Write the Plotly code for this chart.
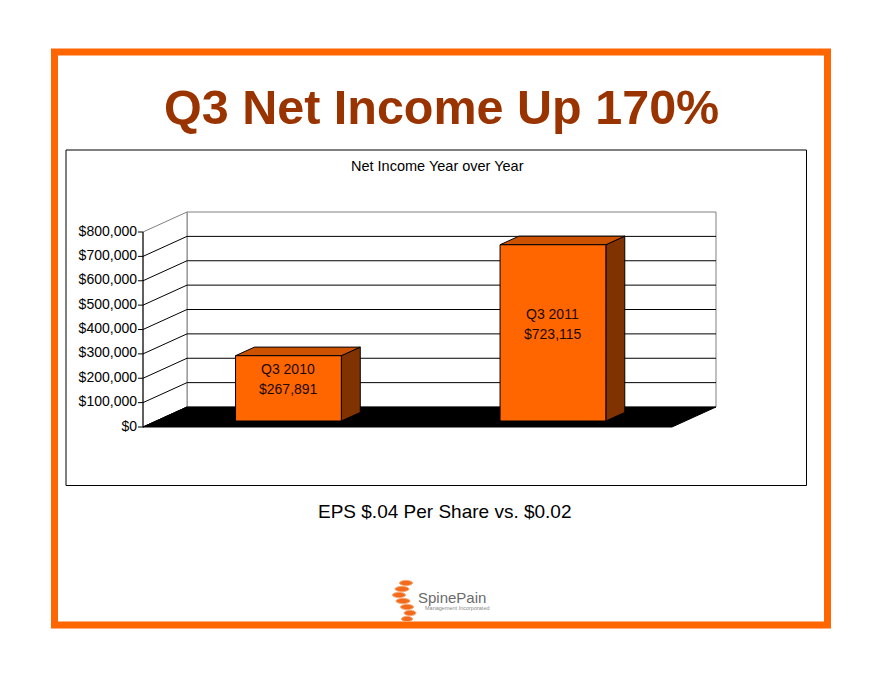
import plotly.graph_objects as go

quarters = ["Q3 2010", "Q3 2011"]
net_income = [267891, 723115]
tick_values = [0, 100000, 200000, 300000, 400000, 500000, 600000, 700000, 800000]
tick_labels = ["$0", "$100,000", "$200,000", "$300,000", "$400,000",
               "$500,000", "$600,000", "$700,000", "$800,000"]

W, H = 881, 680
OFF = 8  # the page body margin shifts the figure by this much
ORANGE = "#FF6600"
RUST = "#993300"
SANS = "Liberation Sans, Arial, sans-serif"

# front-left floor corner in pixels, and the scales of the oblique projection
FLOOR_PX_X, FLOOR_PX_Y = 143 - OFF, 427 - OFF
PX_PER_DOLLAR = 195 / 800000
PX_PER_CAT = 264.5
DX = 44 / PX_PER_CAT          # depth shift, x units
DY = 20 / PX_PER_DOLLAR       # depth shift, dollars
BAR_HALF = 0.2
BAR_D0, BAR_D1 = 0.3, 0.73

y_max = tick_values[-1]
x_lo, x_hi = -0.5, len(quarters) - 0.5


def proj(x, v, d):
    return x + d * DX, v + d * DY


def poly(points, fill, line_color="black", width=1):
    pts = [proj(*p) for p in points]
    pts.append(pts[0])
    return go.Scatter(x=[p[0] for p in pts], y=[p[1] for p in pts], mode="lines",
                      fill="toself", fillcolor=fill,
                      line=dict(color=line_color, width=width), hoverinfo="skip")


def segments(pairs, color="black", width=1):
    xs, ys = [], []
    for a, b in pairs:
        pa, pb = proj(*a), proj(*b)
        xs += [pa[0], pb[0], None]
        ys += [pa[1], pb[1], None]
    return go.Scatter(x=xs, y=ys, mode="lines", line=dict(color=color, width=width),
                      hoverinfo="skip")


def px(x):
    return (x - OFF) / W


def py(y):
    return 1 - (y - OFF) / H


fig = go.Figure()

# walls
fig.add_trace(poly([(x_lo, 0, 1), (x_hi, 0, 1), (x_hi, y_max, 1), (x_lo, y_max, 1)],
                   "white", "#808080"))
fig.add_trace(poly([(x_lo, 0, 0), (x_lo, 0, 1), (x_lo, y_max, 1), (x_lo, y_max, 0)],
                   "white", "#808080"))

# gridlines on the back wall and the left wall
fig.add_trace(segments([((x_lo, v, 1), (x_hi, v, 1)) for v in tick_values[1:-1]]))
fig.add_trace(segments([((x_lo, v, 0), (x_lo, v, 1)) for v in tick_values[:-1]]))

# floor
fig.add_trace(poly([(x_lo, 0, 0), (x_hi, 0, 0), (x_hi, 0, 1), (x_lo, 0, 1)], "black"))

# front value axis
tick_len = 5 / PX_PER_CAT
fig.add_trace(segments([((x_lo, 0, 0), (x_lo, y_max, 0))]))
fig.add_trace(segments([((x_lo - tick_len, v, 0), (x_lo, v, 0)) for v in tick_values]))
fig.add_trace(go.Scatter(x=[x_lo - 6 / PX_PER_CAT] * len(tick_values), y=tick_values,
                         mode="text", text=tick_labels, textposition="middle left",
                         textfont=dict(family=SANS, size=14, color="black"),
                         hoverinfo="skip", cliponaxis=False))

# bars
for i, (q, v) in enumerate(zip(quarters, net_income)):
    l, r = i - BAR_HALF, i + BAR_HALF
    fig.add_trace(poly([(r, 0, BAR_D0), (r, 0, BAR_D1), (r, v, BAR_D1), (r, v, BAR_D0)],
                       "#803300"))
    fig.add_trace(poly([(l, v, BAR_D0), (r, v, BAR_D0), (r, v, BAR_D1), (l, v, BAR_D1)],
                       "#CC5200"))
    fig.add_trace(poly([(l, 0, BAR_D0), (r, 0, BAR_D0), (r, v, BAR_D0), (l, v, BAR_D0)],
                       ORANGE))
    cx, cy = proj(i, v / 2, BAR_D0)
    for text, shift in [(q, 19), (f"${v:,}", -1)]:
        fig.add_annotation(x=cx, y=cy, text=text, showarrow=False, yshift=shift,
                           font=dict(family=SANS, size=14, color="#1a0a00"))

shapes = [
    dict(type="rect", xref="paper", yref="paper", x0=px(54.5), x1=px(827.5),
         y0=py(625), y1=py(52), line=dict(color=ORANGE, width=7), layer="below"),
    dict(type="rect", xref="paper", yref="paper", x0=px(66), x1=px(806.5),
         y0=py(485.5), y1=py(150), line=dict(color="black", width=1), layer="below"),
]

# logo rings
for cx, cy, w in [(406, 583, 13), (402, 589, 14), (399, 595, 13), (403, 601, 14),
                  (407, 607, 13), (410, 613, 12), (407, 619, 11)]:
    shapes.append(dict(type="circle", xref="paper", yref="paper",
                       x0=px(cx - w / 2), x1=px(cx + w / 2), y0=py(cy + 2.6), y1=py(cy - 2.6),
                       fillcolor="#F26A1B", line=dict(color="#F6A36E", width=1)))
fig.update_layout(shapes=shapes)

annotations = [
    dict(x=px(441), y=py(107), text="<b>Q3 Net Income Up 170%</b>", xanchor="center",
         font=dict(family=SANS, size=48.5, color=RUST)),
    dict(x=px(437), y=py(166), text="Net Income Year over Year", xanchor="center",
         font=dict(family=SANS, size=14.5, color="black")),
    dict(x=px(445), y=py(511), text="EPS $.04 Per Share vs. $0.02", xanchor="center",
         font=dict(family=SANS, size=19, color="black")),
    dict(x=px(416), y=py(597), text="SpinePain", xanchor="left",
         font=dict(family=SANS, size=15, color="#6b6b6b")),
    dict(x=px(423), y=py(608), text="Management Incorporated", xanchor="left",
         font=dict(family=SANS, size=5.5, color="#8a8a8a")),
]
for a in annotations:
    fig.add_annotation(xref="paper", yref="paper", showarrow=False, yanchor="middle", **a)

fig.update_layout(
    width=W, height=H,
    margin=dict(l=0, r=0, t=0, b=0),
    paper_bgcolor="white", plot_bgcolor="white",
    showlegend=False,
    xaxis=dict(visible=False, fixedrange=True,
               range=[x_lo - FLOOR_PX_X / PX_PER_CAT, x_lo + (W - FLOOR_PX_X) / PX_PER_CAT]),
    yaxis=dict(visible=False, fixedrange=True,
               range=[-(H - FLOOR_PX_Y) / PX_PER_DOLLAR, FLOOR_PX_Y / PX_PER_DOLLAR]),
)

fig.write_html("out.html")
